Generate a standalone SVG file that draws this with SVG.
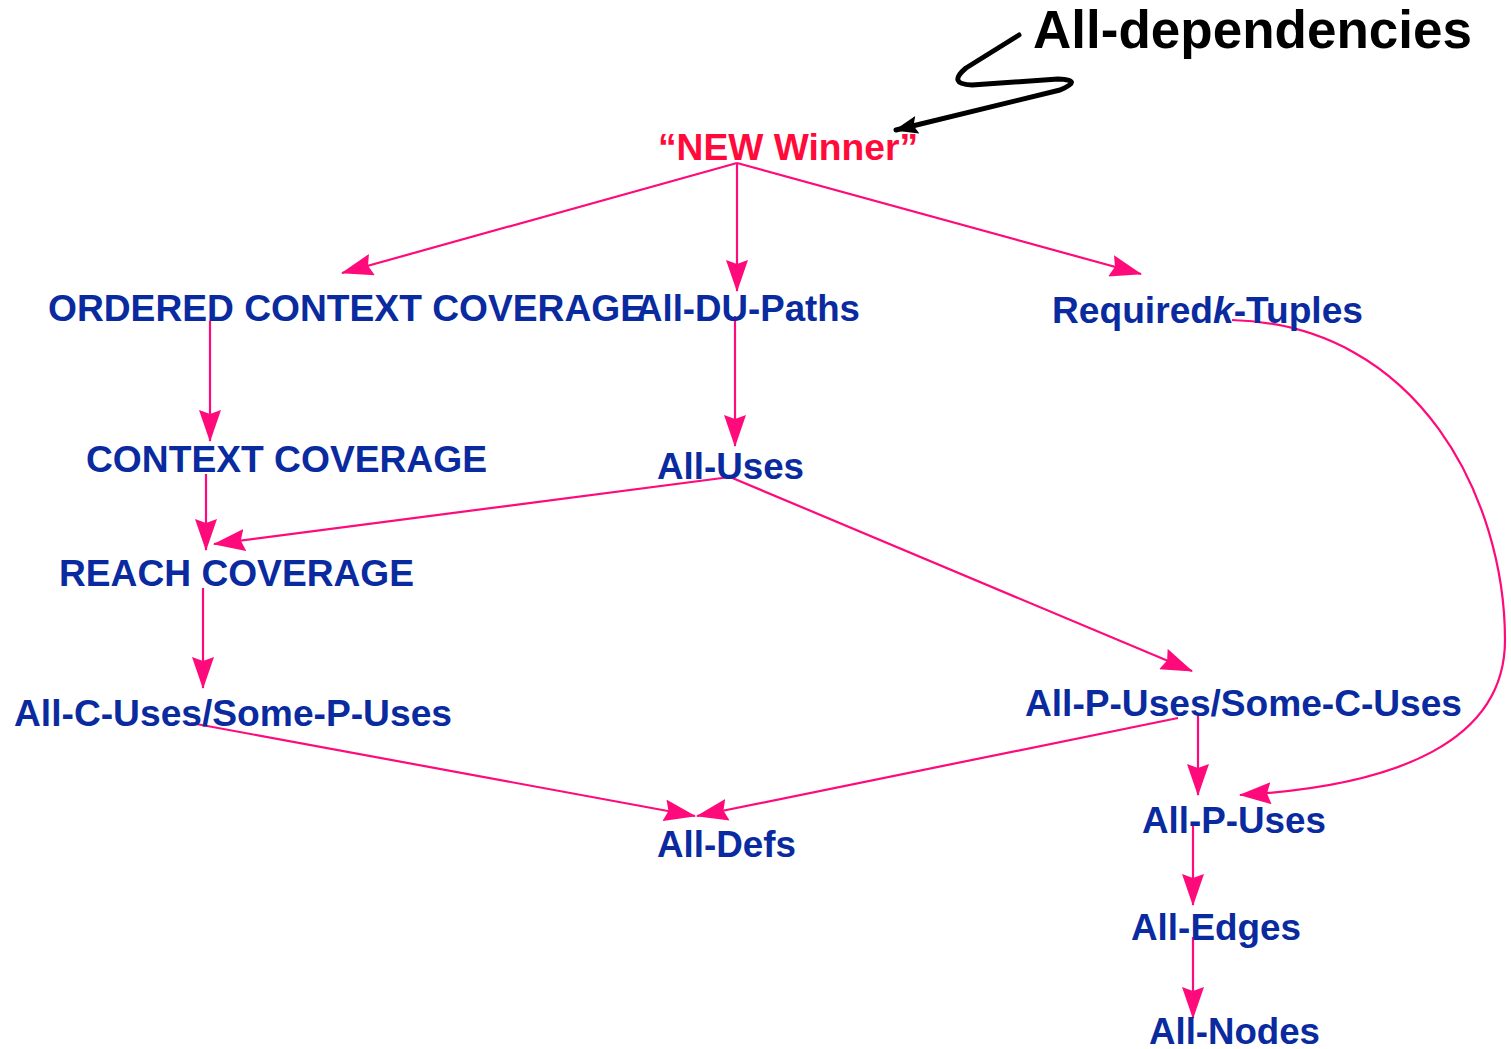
<svg xmlns="http://www.w3.org/2000/svg" width="1511" height="1049" viewBox="0 0 1511 1049">
  <defs>
    <style>
      .lbl { font-family: "Liberation Sans", Arial, Helvetica, sans-serif; font-weight: bold; font-size: 37px; fill: #0a2b9f; }
      .win { font-family: "Liberation Sans", Arial, Helvetica, sans-serif; font-weight: bold; font-size: 37px; fill: #ff0a3a; }
      .dep { font-family: "Liberation Sans", Arial, Helvetica, sans-serif; font-weight: bold; font-size: 53px; fill: #000000; }
      .edge { fill: none; stroke: #ff0a7a; stroke-width: 2.2; marker-end: url(#pink-head); }
      .note { fill: none; stroke: #000000; stroke-width: 5; stroke-linecap: round; stroke-linejoin: round; marker-end: url(#black-head); }
    </style>
    <marker id="pink-head" viewBox="0 0 32 22" refX="31" refY="11" markerWidth="32" markerHeight="22" markerUnits="userSpaceOnUse" orient="auto">
      <path d="M0,0 L32,11 L0,22 L4,11 z" fill="#ff0a7a"/>
    </marker>
    <marker id="black-head" viewBox="0 0 24 18" refX="22" refY="9" markerWidth="24" markerHeight="18" markerUnits="userSpaceOnUse" orient="auto">
      <path d="M0,0 L24,9 L0,18 L4,9 z" fill="#000000"/>
    </marker>
  </defs>

  <rect width="1511" height="1049" fill="#ffffff"/>

  <!-- connectors -->
  <g id="connectors">
    <path class="edge" d="M737,163 L342,273"/>
    <path class="edge" d="M737,163 L737,291"/>
    <path class="edge" d="M737,163 L1141,274"/>
    <path class="edge" d="M210,321 L210,441"/>
    <path class="edge" d="M735,316 L735,446"/>
    <path class="edge" d="M206,474 L206,550"/>
    <path class="edge" d="M730,477 L214,544"/>
    <path class="edge" d="M730,477 L1192,671"/>
    <path class="edge" d="M203,588 L203,688"/>
    <path class="edge" d="M191,723 L695,816"/>
    <path class="edge" d="M1178,718 L697,816"/>
    <path class="edge" d="M1198,714 L1198,795"/>
    <path class="edge" d="M1232,320 C1420,325 1505,500 1505,640 C1505,740 1400,786 1240,795"/>
    <path class="edge" d="M1193,826 L1193,905"/>
    <path class="edge" d="M1193,937 L1193,1018"/>
    <path class="note" d="M1019,35 L966,68 Q947,84 972,85 L1058,79 Q1084,80 1060,90 L896,130"/>
  </g>

  <!-- nodes -->
  <g id="all-dependencies"><text class="dep" x="1033" y="48" textLength="439" lengthAdjust="spacingAndGlyphs">All-dependencies</text></g>
  <g id="new-winner"><text class="win" x="658" y="160" textLength="260" lengthAdjust="spacingAndGlyphs">“NEW Winner”</text></g>
  <g id="ordered-context-coverage"><text class="lbl" x="48" y="321" textLength="597" lengthAdjust="spacingAndGlyphs">ORDERED CONTEXT COVERAGE</text></g>
  <g id="all-du-paths"><text class="lbl" x="636" y="321" textLength="224" lengthAdjust="spacingAndGlyphs">All-DU-Paths</text></g>
  <g id="required-k-tuples"><text class="lbl" x="1052" y="323" textLength="311" lengthAdjust="spacingAndGlyphs">Required<tspan font-style="italic">k</tspan>-Tuples</text></g>
  <g id="context-coverage"><text class="lbl" x="86" y="472" textLength="401" lengthAdjust="spacingAndGlyphs">CONTEXT COVERAGE</text></g>
  <g id="all-uses"><text class="lbl" x="657" y="479" textLength="147" lengthAdjust="spacingAndGlyphs">All-Uses</text></g>
  <g id="reach-coverage"><text class="lbl" x="59" y="586" textLength="355" lengthAdjust="spacingAndGlyphs">REACH COVERAGE</text></g>
  <g id="all-c-uses-some-p-uses"><text class="lbl" x="14" y="726" textLength="438" lengthAdjust="spacingAndGlyphs">All-C-Uses/Some-P-Uses</text></g>
  <g id="all-defs"><text class="lbl" x="657" y="857" textLength="139" lengthAdjust="spacingAndGlyphs">All-Defs</text></g>
  <g id="all-p-uses-some-c-uses"><text class="lbl" x="1025" y="716" textLength="437" lengthAdjust="spacingAndGlyphs">All-P-Uses/Some-C-Uses</text></g>
  <g id="all-p-uses"><text class="lbl" x="1142" y="833" textLength="184" lengthAdjust="spacingAndGlyphs">All-P-Uses</text></g>
  <g id="all-edges"><text class="lbl" x="1131" y="940" textLength="170" lengthAdjust="spacingAndGlyphs">All-Edges</text></g>
  <g id="all-nodes"><text class="lbl" x="1149" y="1044" textLength="171" lengthAdjust="spacingAndGlyphs">All-Nodes</text></g>
</svg>
